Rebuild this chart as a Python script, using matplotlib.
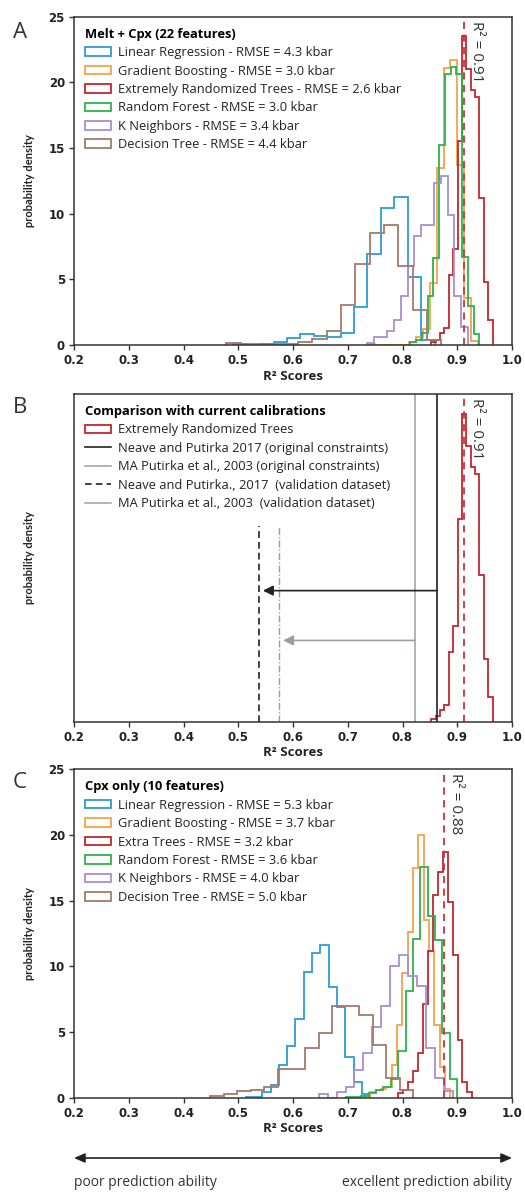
import numpy as np
import matplotlib
matplotlib.use("Agg")
import matplotlib.pyplot as plt
from matplotlib.patches import Patch, FancyArrowPatch
from matplotlib.lines import Line2D

plt.rcParams['font.family'] = ['Open Sans', 'DejaVu Sans']

# ---------------- data ----------------
# histogram bins given as (first edge, bin width) and bar heights
# Panel A: Melt + Cpx (22 features)
A_LR_BINS = (0.491, 0.0245)
A_LR = [0.1, 0.0, 0.1, 0.2, 0.5, 0.8, 0.66, 0.63, 0.89, 2.87, 6.9, 10.4, 11.25, 5.2, 0.4]
A_GB_BINS = (0.7375, 0.0125)
A_GB = [0.1, 0, 0, 0, 0, 0, 0.2, 0.6, 1.2, 4.7, 13.5, 21.1, 21.7, 13.7, 3.6, 0.3]
A_ERT_BINS = (0.8525, 0.008)
A_ERT = [0.2, 0.4, 0.9, 1.3, 5.3, 7.3, 15.5, 23.5, 21.0, 19.4, 18.9, 11.2, 4.8, 1.9]
A_RF_BINS = (0.8145, 0.0105)
A_RF = [0.25, 0.4, 0.9, 3.7, 6.6, 15.2, 20.6, 21.2, 20.6, 6.7, 3.0, 0.8]
A_KN_BINS = (0.736, 0.0122)
A_KN = [0.15, 0.6, 0.6, 1.1, 1.9, 3.7, 6.0, 8.3, 9.1, 9.1, 12.3, 12.9, 9.9, 3.7, 1.4]
A_DT_BINS = (0.478, 0.0262)
A_DT = [0.13, 0.05, 0.05, 0.05, 0.05, 0.2, 0.45, 1.1, 3.07, 6.17, 8.5, 9.14, 6.0, 2.66, 0.4]
A_LABELS = ["Linear Regression - RMSE = 4.3 kbar",
            "Gradient Boosting - RMSE = 3.0 kbar",
            "Extremely Randomized Trees - RMSE = 2.6 kbar",
            "Random Forest - RMSE = 3.0 kbar",
            "K Neighbors - RMSE = 3.4 kbar",
            "Decision Tree - RMSE = 4.4 kbar"]
A_TITLE = "Melt + Cpx (22 features)"
A_R2 = 0.913
A_R2_TEXT = "R² = 0.91"

# Panel B: comparison with current calibrations
B_TITLE = "Comparison with current calibrations"
B_LABELS = ["Extremely Randomized Trees",
            "Neave and Putirka 2017 (original constraints)",
            "MA Putirka et al., 2003 (original constraints)",
            "Neave and Putirka., 2017  (validation dataset)",
            "MA Putirka et al., 2003  (validation dataset)"]
B_NP_ORIG = 0.863
B_MA_ORIG = 0.822
B_NP_VAL = 0.537
B_MA_VAL = 0.575
B_VAL_TOP = 14.9
B_NP_ARROW = (0.863, 0.545, 10.0)
B_MA_ARROW = (0.822, 0.582, 6.2)

# Panel C: Cpx only (10 features)
C_LR_BINS = (0.5136, 0.01515)
C_LR = [0.08, 0.08, 0.45, 0.96, 2.46, 3.9, 6.0, 9.6, 11.0, 11.6, 8.4, 6.9, 3.1, 1.2, 0.3]
C_GB_BINS = (0.7318, 0.0097)
C_GB = [0.15, 0.46, 0.6, 0.7, 0.84, 2.5, 5.5, 9.5, 12.6, 17.5, 20.0, 13.5, 11.2, 5.5, 2.3, 0.7]
C_ET_BINS = (0.7925, 0.009)
C_ET = [0.33, 0.6, 1.2, 2.0, 3.4, 7.1, 11.2, 15.4, 17.2, 18.7, 14.9, 10.9, 4.4, 1.2, 0.46]
C_RF_BINS = (0.6975, 0.0135)
C_RF = [0.08, 0.08, 0.15, 0.35, 0.6, 0.85, 1.4, 3.55, 8.1, 12.1, 17.6, 13.8, 12.0, 4.9, 1.45]
C_KN_BINS = (0.647, 0.0163)
C_KN = [0.25, 0.0, 0.46, 0.84, 2.1, 3.4, 5.4, 7.0, 10.0, 10.9, 9.3, 8.5, 3.75, 1.5, 0.5]
C_DT_BINS = (0.449, 0.0247)
C_DT = [0.1, 0.3, 0.5, 0.6, 0.85, 2.2, 2.2, 3.75, 4.9, 7.0, 7.0, 6.3, 4.0, 1.5, 0.6]
C_LABELS = ["Linear Regression - RMSE = 5.3 kbar",
            "Gradient Boosting - RMSE = 3.7 kbar",
            "Extra Trees - RMSE = 3.2 kbar",
            "Random Forest - RMSE = 3.6 kbar",
            "K Neighbors - RMSE = 4.0 kbar",
            "Decision Tree - RMSE = 5.0 kbar"]
C_TITLE = "Cpx only (10 features)"
C_R2 = 0.876
C_R2_TEXT = "R² = 0.88"

X_TICKS = [0.2, 0.3, 0.4, 0.5, 0.6, 0.7, 0.8, 0.9, 1.0]
X_TICKLABELS = ["0.2", "0.3", "0.4", "0.5", "0.6", "0.7", "0.8", "0.9", "1.0"]
Y_TICKS = [0, 5, 10, 15, 20, 25]

# ---------------- style ----------------
COLORS = ["#2a9dd8", "#f6a14a", "#c2272d", "#2bb34b", "#a98fd2", "#a57a6b"]
GREY = "#9a9ea3"
SPINE = "#333333"
LW = 1.3
LEG_FS = 9.3


def edges(bins, heights):
    start, width = bins
    return start + width * np.arange(len(heights) + 1)


W, H = 525, 1193
fig = plt.figure(figsize=(W / 100, H / 100), dpi=100)


def make_ax(top_px, bottom_px):
    left, right = 74, 512
    return fig.add_axes([left / W, 1 - bottom_px / H, (right - left) / W, (bottom_px - top_px) / H])


def style_ax(ax, yticks=True):
    ax.set_xlim(0.2, 1.0)
    ax.set_ylim(0, 25)
    ax.set_xticks(X_TICKS)
    ax.set_xticklabels(X_TICKLABELS)
    if yticks:
        ax.set_yticks(Y_TICKS)
    else:
        ax.set_yticks([])
    for lab in ax.get_xticklabels() + ax.get_yticklabels():
        lab.set_fontfamily('DejaVu Sans')
        lab.set_fontweight('bold')
        lab.set_fontsize(8.5)
        lab.set_color('#222222')
    ax.tick_params(direction='out', length=3.5, width=1.0, color=SPINE, pad=3)
    for s in ax.spines.values():
        s.set_color(SPINE)
        s.set_linewidth(1.1)
    ax.set_ylabel("probability density", fontsize=8, fontweight='bold', color='#222222',
                  family=['Lato', 'DejaVu Sans'])
    ax.yaxis.set_label_coords(-0.088, 0.5)
    ax.set_xlabel("R² Scores", fontsize=9.5, fontweight='bold', color='#222222')
    ax.xaxis.set_label_coords(0.5, -0.075)


def r2_line(ax, x, text, tx):
    ax.axvline(x, color="#c8353b", lw=1.3, ls=(0, (4, 3)))
    ax.text(tx, 24.7, text, rotation=270, ha='left', va='top', fontsize=11, color='#333333')


def make_legend(ax, handles, title, spacing):
    leg = ax.legend(handles=handles, loc='upper left', bbox_to_anchor=(0.0, 1.0),
                    frameon=False, fontsize=LEG_FS, title=title,
                    title_fontproperties={'weight': 'bold', 'size': LEG_FS},
                    alignment='left', handlelength=2.0, handleheight=0.65,
                    handletextpad=0.55, labelspacing=spacing, borderaxespad=0.45)
    for t in leg.get_texts():
        t.set_color('#222222')
    return leg


def hist_panel(ax, series, labels, title):
    handles = []
    for (bins, h), c, lab in zip(series, COLORS, labels):
        ax.stairs(h, edges(bins, h), color=c, lw=LW)
        handles.append(Patch(facecolor='none', edgecolor=c, lw=LW, label=lab))
    return make_legend(ax, handles, title, 0.42)


# Panel A
axA = make_ax(16.7, 345)
hist_panel(axA, [(A_LR_BINS, A_LR), (A_GB_BINS, A_GB), (A_ERT_BINS, A_ERT),
                 (A_RF_BINS, A_RF), (A_KN_BINS, A_KN), (A_DT_BINS, A_DT)],
           A_LABELS, A_TITLE)
r2_line(axA, A_R2, A_R2_TEXT, 0.921)
style_ax(axA)

# Panel B
axB = make_ax(394, 721.7)
axB.stairs(A_ERT, edges(A_ERT_BINS, A_ERT), color=COLORS[2], lw=LW)
axB.axvline(B_NP_ORIG, color='#222222', lw=1.2)
axB.axvline(B_MA_ORIG, color=GREY, lw=1.1)
axB.plot([B_NP_VAL, B_NP_VAL], [0, B_VAL_TOP], color='#222222', lw=1.2, ls=(0, (4, 2.5)))
axB.plot([B_MA_VAL, B_MA_VAL], [0, B_VAL_TOP], color=GREY, lw=1.0, ls=(0, (5, 1.5, 1, 1.5)))
axB.annotate('', xy=(B_NP_ARROW[1], B_NP_ARROW[2]), xytext=(B_NP_ARROW[0], B_NP_ARROW[2]),
             arrowprops=dict(arrowstyle='-|>,head_length=0.6,head_width=0.3', color='#222222',
                             lw=1.2, shrinkA=0, shrinkB=0))
axB.annotate('', xy=(B_MA_ARROW[1], B_MA_ARROW[2]), xytext=(B_MA_ARROW[0], B_MA_ARROW[2]),
             arrowprops=dict(arrowstyle='-|>,head_length=0.6,head_width=0.3', color=GREY,
                             lw=1.2, shrinkA=0, shrinkB=0))
r2_line(axB, A_R2, A_R2_TEXT, 0.921)
b_handles = [Patch(facecolor='none', edgecolor=COLORS[2], lw=LW, label=B_LABELS[0]),
             Line2D([], [], color='#222222', lw=1.2, label=B_LABELS[1]),
             Line2D([], [], color=GREY, lw=1.1, label=B_LABELS[2]),
             Line2D([], [], color='#222222', lw=1.2, ls=(0, (4, 2.5)), label=B_LABELS[3]),
             Line2D([], [], color=GREY, lw=1.1, label=B_LABELS[4])]
make_legend(axB, b_handles, B_TITLE, 0.42)
style_ax(axB, yticks=False)

# Panel C
axC = make_ax(769.3, 1097.7)
hist_panel(axC, [(C_LR_BINS, C_LR), (C_GB_BINS, C_GB), (C_ET_BINS, C_ET),
                 (C_RF_BINS, C_RF), (C_KN_BINS, C_KN), (C_DT_BINS, C_DT)],
           C_LABELS, C_TITLE)
r2_line(axC, C_R2, C_R2_TEXT, 0.883)
style_ax(axC)

# Panel letters
for letter, ypx in [("A", 33), ("B", 407), ("C", 783)]:
    fig.text(20 / W, 1 - ypx / H, letter, fontsize=16, ha='center', va='center', color='#333333')

# bottom double arrow and captions
fig.add_artist(FancyArrowPatch(
    (74 / W, 1 - 1158 / H), (512 / W, 1 - 1158 / H), transform=fig.transFigure,
    arrowstyle='<|-|>,head_length=0.8,head_width=0.35', mutation_scale=8,
    color='#222222', lw=1.2, shrinkA=0, shrinkB=0))
fig.text(74 / W, 1 - 1183 / H, "poor prediction ability", fontsize=10, ha='left', va='center', color='#333333')
fig.text(512 / W, 1 - 1183 / H, "excellent prediction ability", fontsize=10, ha='right', va='center', color='#333333')

fig.savefig("out.png", dpi=100)
